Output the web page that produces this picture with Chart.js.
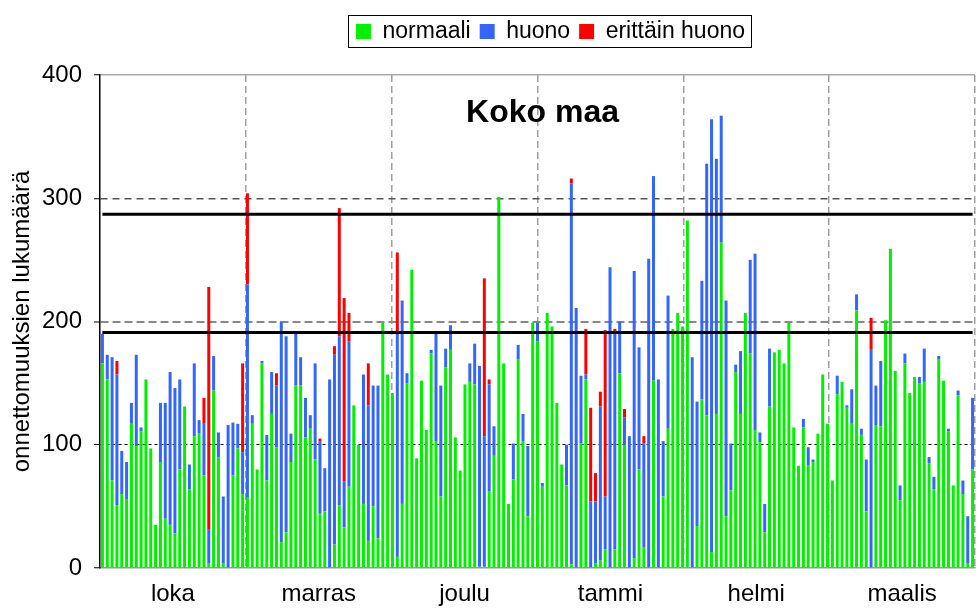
<!DOCTYPE html>
<html>
<head>
<meta charset="utf-8">
<title>Koko maa</title>
<script src="https://cdn.jsdelivr.net/npm/chart.js@4/dist/chart.umd.min.js"></script>
<style>
  html, body { margin: 0; padding: 0; background: #fff; }
  canvas { display: block; }
</style>
</head>
<body>
<canvas id="myChart" width="977" height="610"></canvas>
<script>
// daily counts, Oct -> Mar
var normaali = [
  166,153,71,51,60,56,117,99,111,153,
  97,35,86,40,35,28,80,131,64,107,
  109,75,4,144,90,4,0,75,97,60,
  57,117,80,166,71,125,98,21,29,86,
  148,148,106,113,88,44,46,0,19,51,
  33,66,132,100,52,22,50,24,199,157,
  142,9,52,150,242,89,152,112,174,103,
  58,163,177,106,79,149,151,149,1,1,
  62,91,301,166,52,72,169,103,42,199,
  184,66,207,196,134,84,67,3,0,101,
  153,0,4,6,15,0,15,158,100,0,
  8,80,17,0,152,0,58,113,194,207,
  196,282,0,34,137,124,13,125,264,42,
  63,159,125,207,174,112,102,29,131,175,
  177,166,199,114,83,114,83,86,109,157,
  117,71,141,151,130,117,209,108,46,0,
  116,115,201,259,160,55,166,142,155,150,
  151,85,64,169,152,111,67,140,60,4,80
];
var huono = [
  24,20,100,106,35,30,17,74,3,0,
  0,0,48,94,124,118,73,0,20,59,
  11,42,27,28,20,54,116,43,20,34,
  173,7,0,2,37,34,50,179,159,23,
  44,23,32,11,78,59,35,153,154,137,
  37,118,0,0,105,110,98,124,0,0,
  0,181,165,8,0,0,0,0,3,87,
  90,15,20,0,0,0,15,33,163,106,
  87,24,0,0,0,29,12,22,57,0,
  15,3,0,0,0,0,33,309,211,55,
  4,54,50,125,43,244,177,42,22,107,
  233,99,84,251,166,153,45,108,0,0,
  0,0,171,101,96,204,351,207,103,175,
  38,6,51,0,76,143,8,23,47,0,
  0,0,0,0,0,7,15,2,0,0,
  0,0,15,0,2,28,13,5,42,177,
  32,53,0,0,0,12,8,0,0,5,
  27,5,10,3,0,2,0,4,11,38,58
];
var erittainHuono = [
  0,0,0,11,0,0,0,0,0,0,
  0,0,0,0,0,0,0,0,0,0,
  0,21,197,0,0,0,0,0,0,72,
  74,0,0,0,0,0,10,0,0,0,
  0,0,0,0,0,2,0,0,7,104,
  149,23,0,0,0,34,0,0,0,0,
  0,66,0,0,0,0,0,0,0,0,
  0,0,0,0,0,0,0,0,0,128,
  4,0,0,0,0,0,0,0,0,0,
  0,0,0,0,0,0,0,4,0,0,
  37,76,23,12,135,0,2,0,7,0,
  0,0,6,0,0,0,0,0,0,0,
  0,0,0,0,0,0,0,0,0,0,
  0,0,0,0,0,0,0,0,0,0,
  0,0,0,0,0,0,0,0,0,0,
  0,0,0,0,0,0,0,0,0,26,
  0,0,0,0,0,0,0,0,0,0,
  0,0,0,0,0,0,0,0,0,0,0
];
var kuukaudet = ['loka', 'marras', 'joulu', 'tammi', 'helmi', 'maalis'];
var rajat = [191, 287];
var yTicks = [0, 100, 200, 300, 400];

// one category per day
var paivat = normaali.map(function (v, i) { return 'pv' + (i + 1); });

var FONT = '"Liberation Sans", Arial, sans-serif';
Chart.defaults.font.family = FONT;
Chart.defaults.color = '#000';

// gridline look per y value
function yGridColor(v) {
    if (v === 0) return 'rgba(0,0,0,0)';
    if (v === 100) return '#000';
    if (v === 200) return '#888';
    if (v === 300) return '#555';
    return '#aaa';
}
function yGridDash(v) {
    if (v === 100) return [3, 3];
    if (v === 200) return [8, 4];
    if (v === 300) return [7, 5];
    return [];
}

var datasets = [
    { label: 'normaali', data: normaali, backgroundColor: '#00f000' },
    { label: 'huono', data: huono, backgroundColor: '#3366ff' },
    { label: 'erittäin huono', data: erittainHuono, backgroundColor: '#ff0000' }
].map(function (d) {
    d.type = 'bar';
    d.borderWidth = 0;
    d.barPercentage = 0.62;
    d.categoryPercentage = 1;
    return d;
});

rajat.forEach(function (r, i) {
    datasets.push({
        type: 'line',
        label: 'raja' + i,
        stack: 'raja' + i,
        order: -1,
        data: [{ x: paivat[0], y: r }, { x: paivat[paivat.length - 1], y: r }],
        borderColor: '#000',
        borderWidth: 3,
        pointRadius: 0,
        fill: false
    });
});

/* title inside the plot + frame round the legend */
var extras = {
    id: 'extras',
    beforeLayout: function (chart) {
        var lg = chart.legend;
        if (lg && !lg._fixed) {
            var fit = lg.fit;
            lg.fit = function () {
                fit.call(this);
                this.height = 64;
            };
            lg._fixed = true;
        }
    },
    afterLayout: function (chart) {
        // legend sits a bit right of the plot centre in the original
        var lg = chart.legend;
        if (lg) {
            lg.left += 13;
            lg.right += 13;
        }
    },
    afterDraw: function (chart) {
        var ctx = chart.ctx, a = chart.chartArea;
        ctx.save();
        ctx.font = 'bold 32px ' + FONT;
        ctx.fillStyle = '#000';
        ctx.textAlign = 'center';
        ctx.textBaseline = 'middle';
        ctx.fillText('Koko maa', (a.left + a.right) / 2 + 5, a.top + 38);

        var hb = chart.legend.legendHitBoxes;
        if (hb && hb.length) {
            var l = hb[0].left, r = hb[0].left + hb[0].width;
            hb.forEach(function (b) {
                l = Math.min(l, b.left);
                r = Math.max(r, b.left + b.width);
            });
            ctx.strokeStyle = '#000';
            ctx.lineWidth = 1;
            ctx.strokeRect(Math.round(l - 8) + 0.5, Math.round(hb[0].top - 5) + 0.5,
                Math.round(r - l + 14), Math.round(hb[0].height + 9));
        }
        ctx.restore();
    }
};

var ctx = document.getElementById('myChart').getContext('2d');
var chart = new Chart(ctx, {
    type: 'bar',
    data: {
        labels: paivat,
        datasets: datasets
    },
    plugins: [extras],
    options: {
        responsive: false,
        animation: false,
        layout: { padding: { top: 11, right: 2, left: 0, bottom: 0 } },
        plugins: {
            tooltip: { enabled: false },
            legend: {
                position: 'top',
                fullSize: false,
                labels: {
                    boxWidth: 15,
                    boxHeight: 15,
                    padding: 9,
                    font: { size: 23 },
                    color: '#000',
                    filter: function (item) { return item.datasetIndex < 3; }
                }
            }
        },
        scales: {
            x: {
                display: false,
                stacked: true
            },
            x2: {
                type: 'category',
                position: 'bottom',
                labels: kuukaudet,
                offset: true,
                grid: {
                    offset: true,
                    drawTicks: false,
                    lineWidth: 1.5,
                    color: function (c) { return c.index === 0 ? 'rgba(0,0,0,0)' : '#a0a0a0'; }
                },
                border: { color: '#999', width: 1.5, dash: [7, 4] },
                ticks: {
                    font: { size: 24 },
                    color: '#000',
                    padding: 12,
                    maxRotation: 0,
                    autoSkip: false
                },
                afterFit: function (scale) { scale.height = 42; }
            },
            y: {
                stacked: true,
                min: 0,
                max: 400,
                afterBuildTicks: function (scale) {
                    scale.ticks = yTicks.map(function (v) { return { value: v }; });
                },
                grid: {
                    color: function (c) { return c.tick ? yGridColor(c.tick.value) : '#000'; },
                    lineWidth: function (c) {
                        if (!c.tick) return 1;
                        return c.tick.value === 200 ? 2 : (c.tick.value === 100 ? 1 : 1.5);
                    },
                    tickColor: '#000',
                    tickLength: 6,
                    tickWidth: 1
                },
                border: {
                    color: '#000',
                    width: 1.5,
                    dash: function (c) { return c.tick ? yGridDash(c.tick.value) : []; }
                },
                ticks: {
                    font: { size: 24 },
                    color: '#000',
                    padding: 12
                },
                title: {
                    display: true,
                    text: 'onnettomuuksien lukumäärä',
                    font: { size: 24 },
                    color: '#000',
                    padding: { top: 8, bottom: 0 }
                },
                afterFit: function (scale) { scale.width = 100; }
            }
        }
    }
});
</script>
</body>
</html>
